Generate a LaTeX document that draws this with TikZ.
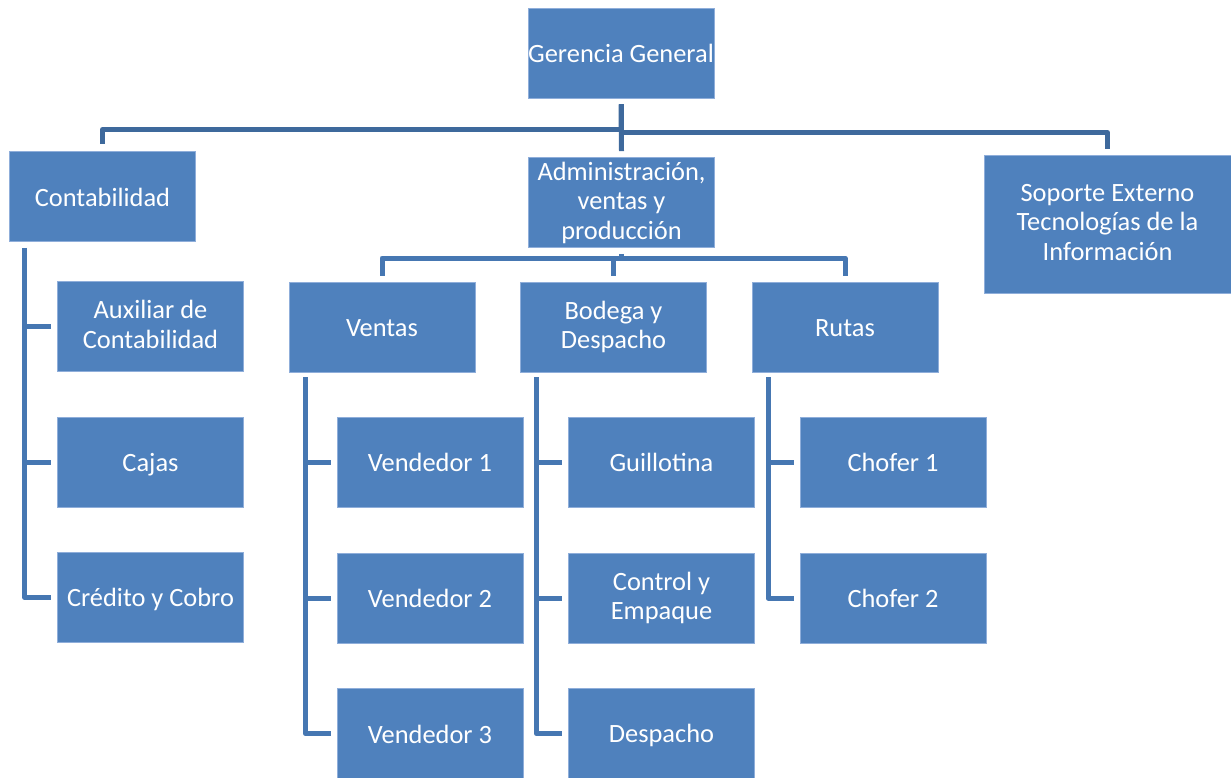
\documentclass[tikz,border=0pt]{standalone}
\usepackage{fontspec}
\setmainfont{Carlito}
\definecolor{boxblue}{HTML}{4F81BD}
\definecolor{boxedge}{HTML}{8FAEDA}
\definecolor{connA}{HTML}{3E699C}
\definecolor{connB}{HTML}{4677B2}
\newcommand\orgstrut{\rule[-4pt]{0pt}{27pt}}
\tikzset{
  orgbox/.style={fill=boxblue, draw=boxedge, line width=0.7pt, text=white,
    minimum width=186pt, minimum height=90pt, inner sep=0pt, align=center,
    font=\fontsize{26.4}{29.5}\selectfont,
    execute at begin node=\orgstrut, execute at end node=\orgstrut},
  linkA/.style={draw=connA, line width=5pt, line join=round},
  linkB/.style={draw=connB, line width=5pt, line join=round}
}
\begin{document}
\begin{tikzpicture}[x=1pt,y=-1pt]
\useasboundingbox (0,0) rectangle (1231,777);
% top
\node[orgbox] (gg) at (621,53) {Gerencia General};
\node[orgbox] (cont) at (102.5,196.5) {Contabilidad};
\node[orgbox] (adm) at (621.5,202.5) {Administración,\\ventas y\\producción};
\node[orgbox, minimum width=247pt, minimum height=138pt] (sop) at (1107.5,224) {Soporte Externo\\Tecnologías de la\\Información};
% contabilidad children
\node[orgbox] (aux) at (150.5,326.5) {Auxiliar de\\Contabilidad};
\node[orgbox] (cajas) at (150.5,462.5) {Cajas};
\node[orgbox] (cred) at (150.5,597.5) {Crédito y Cobro};
% second level
\node[orgbox] (ven) at (382,327) {Ventas};
\node[orgbox] (bod) at (613.5,327) {Bodega y\\Despacho};
\node[orgbox] (rut) at (845,327) {Rutas};
% ventas children
\node[orgbox] (v1) at (430,462) {Vendedor 1};
\node[orgbox] (v2) at (430,598) {Vendedor 2};
\node[orgbox] (v3) at (430,733.5) {Vendedor 3};
% bodega children
\node[orgbox] (gui) at (661.5,462) {Guillotina};
\node[orgbox] (ctl) at (661.5,598) {Control y\\Empaque};
\node[orgbox] (des) at (661.5,733.5) {Despacho};
% rutas children
\node[orgbox] (ch1) at (893,462) {Chofer 1};
\node[orgbox] (ch2) at (893,598) {Chofer 2};

% level-1 connectors
\draw[linkA] ([yshift=-6pt]gg.south) -- (gg.south |- 0,129.5) -| ([yshift=7pt]cont.north);
\draw[linkA] (gg.south |- 0,132.5) -| ([yshift=6pt]sop.north);
\draw[linkA] ([yshift=-6pt]gg.south) -- ([yshift=6pt]adm.north);
% level-2 connectors
\draw[linkB] ([yshift=-6pt]adm.south) -- (adm.south |- 0,258);
\draw[linkB] ([yshift=6pt]ven.north) -- (ven.north |- 0,258) -- (rut.north |- 0,258) -- ([yshift=6pt]rut.north);
\draw[linkB] (bod.north |- 0,258) -- ([yshift=6pt]bod.north);
% spines
\coordinate (cs) at ([xshift=15.5pt,yshift=-6pt]cont.south west);
\draw[linkB] (cs) |- ([xshift=-6pt]cred.west);
\draw[linkB] (cs |- aux.west) -- ([xshift=-6pt]aux.west);
\draw[linkB] (cs |- cajas.west) -- ([xshift=-6pt]cajas.west);
\coordinate (vs) at ([xshift=16.5pt,yshift=-5pt]ven.south west);
\draw[linkB] (vs) |- ([xshift=-6pt]v3.west);
\draw[linkB] (vs |- v1.west) -- ([xshift=-6pt]v1.west);
\draw[linkB] (vs |- v2.west) -- ([xshift=-6pt]v2.west);
\coordinate (bs) at ([xshift=16pt,yshift=-5pt]bod.south west);
\draw[linkB] (bs) |- ([xshift=-6pt]des.west);
\draw[linkB] (bs |- gui.west) -- ([xshift=-6pt]gui.west);
\draw[linkB] (bs |- ctl.west) -- ([xshift=-6pt]ctl.west);
\coordinate (rs) at ([xshift=16.5pt,yshift=-5pt]rut.south west);
\draw[linkB] (rs) |- ([xshift=-6pt]ch2.west);
\draw[linkB] (rs |- ch1.west) -- ([xshift=-6pt]ch1.west);
\end{tikzpicture}
\end{document}
